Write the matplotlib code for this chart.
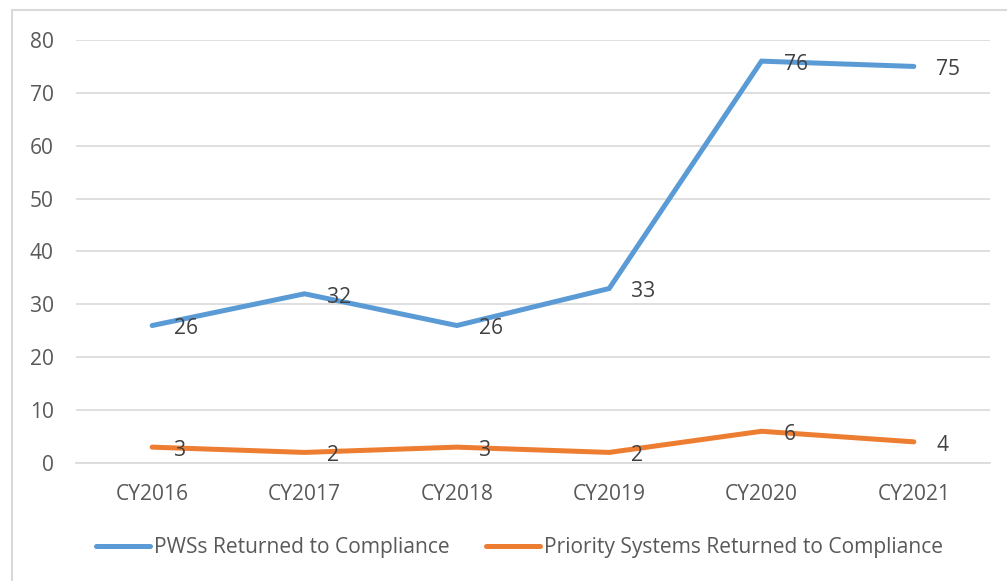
import matplotlib
matplotlib.use("Agg")
import matplotlib.pyplot as plt
from matplotlib.patches import Rectangle

categories = ["CY2016", "CY2017", "CY2018", "CY2019", "CY2020", "CY2021"]
pws = [26, 32, 26, 33, 76, 75]
priority = [3, 2, 3, 2, 6, 4]
series_names = ["PWSs Returned to Compliance", "Priority Systems Returned to Compliance"]
yticks = [0, 10, 20, 30, 40, 50, 60, 70, 80]

blue = "#5B9BD5"
orange = "#ED7D31"
grid_c = "#D9D9D9"
tick_c = "#595959"
label_c = "#404040"

plt.rcParams['font.family'] = ['Open Sans', 'DejaVu Sans']
FS = 15.1

W, H = 1007, 581
fig = plt.figure(figsize=(W / 100, H / 100), dpi=100)
fig.patch.set_facecolor("white")

# chart border
fig.patches.append(Rectangle((12 / W, -0.1), 1.2, 1 - 10 / H + 0.1, transform=fig.transFigure,
                             fill=False, edgecolor=grid_c, linewidth=1.5))

ax = fig.add_axes([76 / W, 1 - 463 / H, (990 - 76) / W, (463 - 40) / H])
x = list(range(len(categories)))

l1, = ax.plot(x, pws, color=blue, linewidth=3.6, solid_capstyle="round", solid_joinstyle="miter", zorder=3)
l2, = ax.plot(x, priority, color=orange, linewidth=3.6, solid_capstyle="round", solid_joinstyle="miter", zorder=3)

for xi, v in zip(x, pws):
    ax.annotate(str(v), (xi, v), xytext=(16, -2.5), textcoords="offset points",
                ha="left", va="center", fontsize=FS, color=label_c, zorder=4)
for xi, v in zip(x, priority):
    ax.annotate(str(v), (xi, v), xytext=(16, -2.5), textcoords="offset points",
                ha="left", va="center", fontsize=FS, color=label_c, zorder=4)

ax.set_xlim(-0.5, len(categories) - 0.5)
ax.set_ylim(0, 80)
ax.set_yticks(yticks)
ax.set_yticklabels([str(t) for t in yticks])
ax.set_xticks(x)
ax.set_xticklabels(categories)
ax.tick_params(axis="y", length=0, pad=16, labelsize=FS, labelcolor=tick_c)
ax.tick_params(axis="x", length=0, pad=15, labelsize=FS, labelcolor=tick_c)
ax.grid(axis="y", color=grid_c, linewidth=1.2)
ax.set_axisbelow(True)
for s in ["top", "right", "left"]:
    ax.spines[s].set_visible(False)
ax.spines["bottom"].set_color(grid_c)
ax.spines["bottom"].set_linewidth(1.2)

leg = fig.legend([l1, l2], series_names, loc="center", bbox_to_anchor=(0.516, 1 - 548 / H),
                 ncol=2, frameon=False, fontsize=FS, handlelength=2.6, handletextpad=0.2,
                 columnspacing=1.7, labelcolor=tick_c)

fig.savefig("out.png", dpi=100)
